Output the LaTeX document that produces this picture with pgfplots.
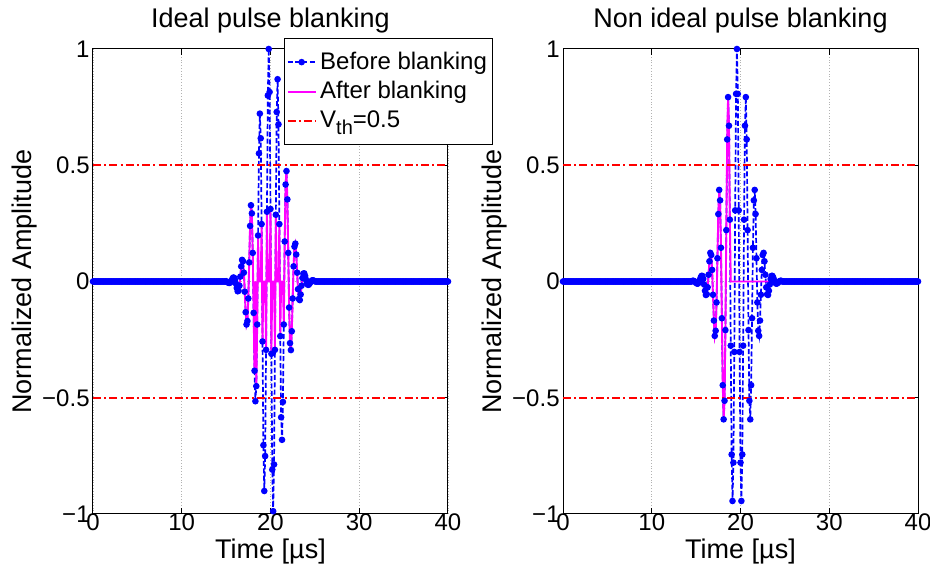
\documentclass[border=0pt]{standalone}
\usepackage{fontspec}
\setmainfont{Liberation Sans}
\usepackage{pgfplots}
\usepackage{pgfplotstable}
\pgfplotsset{compat=1.18}
\definecolor{mblue}{RGB}{0,0,255}
\definecolor{mmag}{RGB}{255,0,255}
\definecolor{mred}{RGB}{255,0,0}

\pgfplotstableread{
t bl al br ar
0.0 0 0 0 0
0.1 0 0 0 0
0.2 0 0 0 0
0.3 0 0 0 0
0.4 0 0 0 0
0.5 0 0 0 0
0.6 0 0 0 0
0.7 0 0 0 0
0.8 0 0 0 0
0.9 0 0 0 0
1.0 0 0 0 0
1.1 0 0 0 0
1.2 0 0 0 0
1.3 0 0 0 0
1.4 0 0 0 0
1.5 0 0 0 0
1.6 0 0 0 0
1.7 0 0 0 0
1.8 0 0 0 0
1.9 0 0 0 0
2.0 0 0 0 0
2.1 0 0 0 0
2.2 0 0 0 0
2.3 0 0 0 0
2.4 0 0 0 0
2.5 0 0 0 0
2.6 0 0 0 0
2.7 0 0 0 0
2.8 0 0 0 0
2.9 0 0 0 0
3.0 0 0 0 0
3.1 0 0 0 0
3.2 0 0 0 0
3.3 0 0 0 0
3.4 0 0 0 0
3.5 0 0 0 0
3.6 0 0 0 0
3.7 0 0 0 0
3.8 0 0 0 0
3.9 0 0 0 0
4.0 0 0 0 0
4.1 0 0 0 0
4.2 0 0 0 0
4.3 0 0 0 0
4.4 0 0 0 0
4.5 0 0 0 0
4.6 0 0 0 0
4.7 0 0 0 0
4.8 0 0 0 0
4.9 0 0 0 0
5.0 0 0 0 0
5.1 0 0 0 0
5.2 0 0 0 0
5.3 0 0 0 0
5.4 0 0 0 0
5.5 0 0 0 0
5.6 0 0 0 0
5.7 0 0 0 0
5.8 0 0 0 0
5.9 0 0 0 0
6.0 0 0 0 0
6.1 0 0 0 0
6.2 0 0 0 0
6.3 0 0 0 0
6.4 0 0 0 0
6.5 0 0 0 0
6.6 0 0 0 0
6.7 0 0 0 0
6.8 0 0 0 0
6.9 0 0 0 0
7.0 0 0 0 0
7.1 0 0 0 0
7.2 0 0 0 0
7.3 0 0 0 0
7.4 0 0 0 0
7.5 0 0 0 0
7.6 0 0 0 0
7.7 0 0 0 0
7.8 0 0 0 0
7.9 0 0 0 0
8.0 0 0 0 0
8.1 0 0 0 0
8.2 0 0 0 0
8.3 0 0 0 0
8.4 0 0 0 0
8.5 0 0 0 0
8.6 0 0 0 0
8.7 0 0 0 0
8.8 0 0 0 0
8.9 0 0 0 0
9.0 0 0 0 0
9.1 0 0 0 0
9.2 0 0 0 0
9.3 0 0 0 0
9.4 0 0 0 0
9.5 0 0 0 0
9.6 0 0 0 0
9.7 0 0 0 0
9.8 0 0 0 0
9.9 0 0 0 0
10.0 0 0 0 0
10.1 0 0 0 0
10.2 0 0 0 0
10.3 0 0 0 0
10.4 0 0 0 0
10.5 0 0 0 0
10.6 0 0 0 0
10.7 0 0 0 0
10.8 0 0 0 0
10.9 0 0 0 0
11.0 0 0 0 0
11.1 0 0 0 0
11.2 0 0 0 0
11.3 0 0 0 0
11.4 0 0 0 0
11.5 0 0 0 0
11.6 0 0 0 0
11.7 0 0 0 0
11.8 0 0 0 0
11.9 0 0 0 0
12.0 0 0 0 0
12.1 0 0 0 0
12.2 0 0 0 0
12.3 0 0 0 0
12.4 0 0 0 0
12.5 0 0 0 0
12.6 0 0 0 0
12.7 0 0 0 0
12.8 0 0 0 0
12.9 0 0 0 0
13.0 0 0 0 0
13.1 0 0 0 0
13.2 0 0 0 0
13.3 0 0 0 0
13.4 0 0 0 0
13.5 0 0 0 0
13.6 0 0 0 0
13.7 0 0 0 0
13.8 0 0 0 0
13.9 0 0 0 0
14.0 0 0 0 0
14.1 0 0 0 0
14.2 0 0 0 0
14.3 0 0 0 0
14.4 0 0 0 0
14.5 0 0 0 0
14.6 0 0 0.003 0.003
14.7 0 0 0.003 0.003
14.8 0 0 0.001 0.001
14.9 0 0 -0.002 -0.002
15.0 0.001 0.001 -0.006 -0.006
15.1 -0.001 -0.001 -0.009 -0.009
15.2 -0.004 -0.004 -0.009 -0.009
15.3 -0.006 -0.006 -0.004 -0.004
15.4 -0.006 -0.006 0.005 0.005
15.5 -0.003 -0.003 0.016 0.016
15.6 0.003 0.003 0.024 0.024
15.7 0.011 0.011 0.024 0.024
15.8 0.017 0.017 0.011 0.011
15.9 0.016 0.016 -0.013 -0.013
16.0 0.008 0.008 -0.040 -0.040
16.1 -0.009 -0.009 -0.058 -0.058
16.2 -0.028 -0.028 -0.055 -0.055
16.3 -0.042 -0.042 -0.025 -0.025
16.4 -0.040 -0.040 0.029 0.029
16.5 -0.018 -0.018 0.087 0.087
16.6 0.021 0.021 0.123 0.123
16.7 0.065 0.065 0.114 0.114
16.8 0.093 0.093 0.050 0.050
16.9 0.087 0.087 -0.057 -0.057
17.0 0.038 0.038 -0.168 -0.168
17.1 -0.044 -0.044 -0.234 -0.234
17.2 -0.132 -0.132 -0.212 -0.212
17.3 -0.185 -0.185 -0.090 -0.090
17.4 -0.170 -0.170 0.100 0.100
17.5 -0.073 -0.073 0.290 0.290
17.6 0.082 0.082 0.394 0.394
17.7 0.239 0.239 0.349 0.349
17.8 0.328 0.328 0.145 0.145
17.9 0.293 0.293 -0.158 -0.158
18.0 0.123 0.123 -0.446 -0.446
18.1 -0.135 -0.135 -0.593 -0.593
18.2 -0.384 -0.384 -0.513 -0.513
18.3 -0.515 0 -0.209 -0.209
18.4 -0.450 -0.450 0.221 0.221
18.5 -0.185 -0.185 0.611 0.611
18.6 0.198 0.198 0.793 0.793
18.7 0.551 0 0.670 0.670
18.8 0.722 0 0.266 0.266
18.9 0.616 0 -0.276 0
19.0 0.247 0.247 -0.744 0
19.1 -0.258 -0.258 -0.944 0
19.2 -0.704 0 -0.779 0
19.3 -0.901 0 -0.303 0
19.4 -0.751 0 0.306 0
19.5 -0.294 -0.294 0.807 0
19.6 0.300 0.300 1.000 0
19.7 0.800 0 0.807 0
19.8 1.000 0 0.306 0
19.9 0.815 0 -0.303 0
20.0 0.312 0.312 -0.779 0
20.1 -0.311 -0.311 -0.944 0
20.2 -0.809 0 -0.744 0
20.3 -0.988 0 -0.276 0
20.4 -0.787 0 0.266 0
20.5 -0.294 -0.294 0.670 0
20.6 0.287 0.287 0.793 0
20.7 0.729 0 0.611 0
20.8 0.870 0 0.221 0
20.9 0.676 0 -0.209 0
21.0 0.247 0.247 -0.513 0
21.1 -0.235 -0.235 -0.593 0
21.2 -0.584 0 -0.446 0
21.3 -0.681 0 -0.158 0
21.4 -0.518 0 0.145 0
21.5 -0.185 -0.185 0.349 0
21.6 0.172 0.172 0.394 0
21.7 0.417 0.417 0.290 0
21.8 0.475 0.475 0.100 0
21.9 0.353 0.353 -0.090 0
22.0 0.123 0.123 -0.212 0
22.1 -0.112 -0.112 -0.234 0
22.2 -0.265 -0.265 -0.168 0
22.3 -0.295 -0.295 -0.057 0
22.4 -0.214 -0.214 0.050 0
22.5 -0.073 -0.073 0.114 0
22.6 0.065 0.065 0.123 0
22.7 0.150 0.150 0.087 0
22.8 0.163 0.163 0.029 0
22.9 0.116 0.116 -0.025 0
23.0 0.038 0.038 -0.055 0
23.1 -0.033 -0.033 -0.058 0
23.2 -0.075 -0.075 -0.040 0
23.3 -0.080 -0.080 -0.013 0
23.4 -0.056 -0.056 0.011 0
23.5 -0.018 -0.018 0.024 0
23.6 0.015 0.015 0.024 0
23.7 0.034 0.034 0.016 0
23.8 0.035 0.035 0.005 0
23.9 0.024 0.024 -0.004 0
24.0 0.008 0.008 -0.009 0
24.1 -0.006 -0.006 -0.009 0
24.2 -0.014 -0.014 -0.006 0
24.3 -0.014 -0.014 -0.002 0
24.4 -0.009 -0.009 0.001 0
24.5 -0.003 -0.003 0.003 0
24.6 0.002 0.002 0.003 0
24.7 0.005 0.005 0 0
24.8 0.005 0.005 0 0
24.9 0.003 0.003 0 0
25.0 0.001 0.001 0 0
25.1 0 0 0 0
25.2 0 0 0 0
25.3 0 0 0 0
25.4 0 0 0 0
25.5 0 0 0 0
25.6 0 0 0 0
25.7 0 0 0 0
25.8 0 0 0 0
25.9 0 0 0 0
26.0 0 0 0 0
26.1 0 0 0 0
26.2 0 0 0 0
26.3 0 0 0 0
26.4 0 0 0 0
26.5 0 0 0 0
26.6 0 0 0 0
26.7 0 0 0 0
26.8 0 0 0 0
26.9 0 0 0 0
27.0 0 0 0 0
27.1 0 0 0 0
27.2 0 0 0 0
27.3 0 0 0 0
27.4 0 0 0 0
27.5 0 0 0 0
27.6 0 0 0 0
27.7 0 0 0 0
27.8 0 0 0 0
27.9 0 0 0 0
28.0 0 0 0 0
28.1 0 0 0 0
28.2 0 0 0 0
28.3 0 0 0 0
28.4 0 0 0 0
28.5 0 0 0 0
28.6 0 0 0 0
28.7 0 0 0 0
28.8 0 0 0 0
28.9 0 0 0 0
29.0 0 0 0 0
29.1 0 0 0 0
29.2 0 0 0 0
29.3 0 0 0 0
29.4 0 0 0 0
29.5 0 0 0 0
29.6 0 0 0 0
29.7 0 0 0 0
29.8 0 0 0 0
29.9 0 0 0 0
30.0 0 0 0 0
30.1 0 0 0 0
30.2 0 0 0 0
30.3 0 0 0 0
30.4 0 0 0 0
30.5 0 0 0 0
30.6 0 0 0 0
30.7 0 0 0 0
30.8 0 0 0 0
30.9 0 0 0 0
31.0 0 0 0 0
31.1 0 0 0 0
31.2 0 0 0 0
31.3 0 0 0 0
31.4 0 0 0 0
31.5 0 0 0 0
31.6 0 0 0 0
31.7 0 0 0 0
31.8 0 0 0 0
31.9 0 0 0 0
32.0 0 0 0 0
32.1 0 0 0 0
32.2 0 0 0 0
32.3 0 0 0 0
32.4 0 0 0 0
32.5 0 0 0 0
32.6 0 0 0 0
32.7 0 0 0 0
32.8 0 0 0 0
32.9 0 0 0 0
33.0 0 0 0 0
33.1 0 0 0 0
33.2 0 0 0 0
33.3 0 0 0 0
33.4 0 0 0 0
33.5 0 0 0 0
33.6 0 0 0 0
33.7 0 0 0 0
33.8 0 0 0 0
33.9 0 0 0 0
34.0 0 0 0 0
34.1 0 0 0 0
34.2 0 0 0 0
34.3 0 0 0 0
34.4 0 0 0 0
34.5 0 0 0 0
34.6 0 0 0 0
34.7 0 0 0 0
34.8 0 0 0 0
34.9 0 0 0 0
35.0 0 0 0 0
35.1 0 0 0 0
35.2 0 0 0 0
35.3 0 0 0 0
35.4 0 0 0 0
35.5 0 0 0 0
35.6 0 0 0 0
35.7 0 0 0 0
35.8 0 0 0 0
35.9 0 0 0 0
36.0 0 0 0 0
36.1 0 0 0 0
36.2 0 0 0 0
36.3 0 0 0 0
36.4 0 0 0 0
36.5 0 0 0 0
36.6 0 0 0 0
36.7 0 0 0 0
36.8 0 0 0 0
36.9 0 0 0 0
37.0 0 0 0 0
37.1 0 0 0 0
37.2 0 0 0 0
37.3 0 0 0 0
37.4 0 0 0 0
37.5 0 0 0 0
37.6 0 0 0 0
37.7 0 0 0 0
37.8 0 0 0 0
37.9 0 0 0 0
38.0 0 0 0 0
38.1 0 0 0 0
38.2 0 0 0 0
38.3 0 0 0 0
38.4 0 0 0 0
38.5 0 0 0 0
38.6 0 0 0 0
38.7 0 0 0 0
38.8 0 0 0 0
38.9 0 0 0 0
39.0 0 0 0 0
39.1 0 0 0 0
39.2 0 0 0 0
39.3 0 0 0 0
39.4 0 0 0 0
39.5 0 0 0 0
39.6 0 0 0 0
39.7 0 0 0 0
39.8 0 0 0 0
39.9 0 0 0 0
40.0 0 0 0 0
}\sig

\pgfplotsset{
  common/.style={
    scale only axis, width=177.5pt, height=232.5pt,
    anchor=south west,
    xmin=0, xmax=40, ymin=-1, ymax=1,
    xtick={0,10,20,30,40}, xticklabels={0,10,20,30,40},
    ytick={-1,-0.5,0,0.5,1}, yticklabels={−1,−0.5,0,0.5,1},
    extra y ticks={0}, extra y tick labels={},
    extra y tick style={ymajorgrids=true, major tick length=0pt},
    tick align=inside, major tick length=3pt,
    tick style={black, line width=0.5pt},
    axis line style={black, line width=0.5pt},
    xmajorgrids=true, ymajorgrids=false,
    grid style={densely dotted, gray!60, line width=0.4pt},
    clip=false,
    tick label style={font=\fontsize{12}{14}\selectfont},
    xticklabel style={anchor=base, yshift=-8.5pt},
    yticklabel style={anchor=east, inner sep=0pt, xshift=-1.5pt},
    title style={at={(axis description cs:0.5,1)}, anchor=base, yshift=4.5pt, font=\fontsize{13.5}{16}\selectfont},
    xlabel style={at={(axis description cs:0.5,0)}, anchor=base, yshift=-22.5pt, font=\fontsize{13.5}{16}\selectfont},
    ylabel style={at={(axis description cs:-0.172,0.5)}, anchor=base, font=\fontsize{13.5}{16}\selectfont},
    xlabel={Time [µs]},
    ylabel={Normalized Amplitude},
    legend image code/.code={\draw[mark repeat=2, mark phase=2, #1] plot coordinates {(0pt,0pt) (7pt,0pt) (14pt,0pt)};},
  },
  bluesty/.style={color=mblue, line width=0.85pt, dash pattern=on 2.5pt off 1.2pt, mark=*, mark size=1.2pt, mark options={solid, fill=mblue, draw=mblue}},
  magsty/.style={color=mmag, line width=0.95pt, solid},
  redsty/.style={color=mred, line width=0.8pt, dash pattern=on 4pt off 1.6pt on 1pt off 1.6pt},
}

\begin{document}
\begin{tikzpicture}
\path[use as bounding box] (-46.5pt,-28.5pt) rectangle (418.5pt,257pt);
\begin{axis}[common, at={(0pt,0pt)},
  title={Ideal pulse blanking},
  legend style={at={(1.127,1.024)}, anchor=north east, draw=black, line width=0.5pt, fill=white,
    font=\fontsize{12}{14}\selectfont, inner xsep=1pt, inner ysep=5pt, row sep=1pt,
    nodes={inner sep=1.8pt}},
  legend cell align=left]
\addplot[bluesty] table[x=t, y=bl]{\sig};
\addlegendentry{Before blanking}
\addplot[magsty] table[x=t, y=al]{\sig};
\addlegendentry{After blanking}
\addplot[redsty] coordinates {(0,0.5) (40,0.5)};
\addlegendentry{V\raisebox{-0.5ex}{\fontsize{10}{10}\selectfont th}=0.5}
\addplot[redsty, forget plot] coordinates {(0,-0.5) (40,-0.5)};
\end{axis}
\begin{axis}[common, at={(235pt,0pt)},
  title={Non ideal pulse blanking}]
\addplot[bluesty] table[x=t, y=br]{\sig};
\addplot[magsty] table[x=t, y=ar]{\sig};
\addplot[redsty] coordinates {(0,0.5) (40,0.5)};
\addplot[redsty] coordinates {(0,-0.5) (40,-0.5)};
\end{axis}
\end{tikzpicture}
\end{document}
